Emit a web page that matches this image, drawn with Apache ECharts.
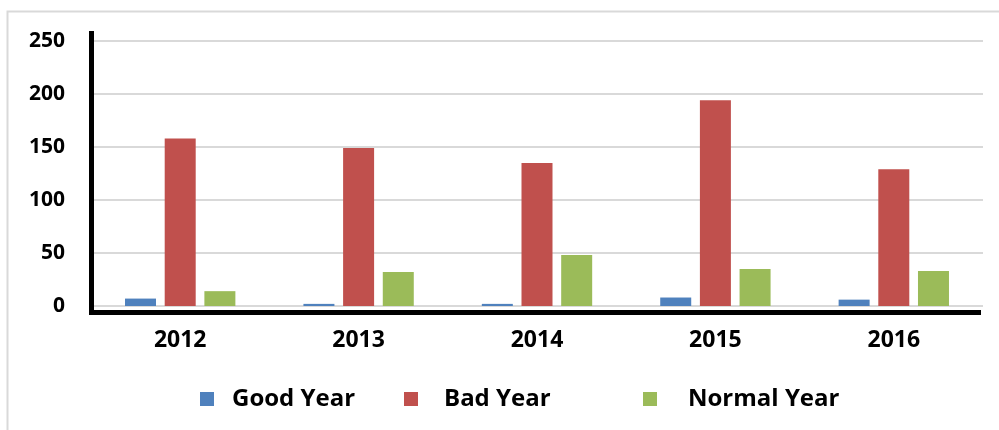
<!DOCTYPE html>
<html>
<head>
<meta charset="utf-8">
<script src="https://cdn.jsdelivr.net/npm/echarts@6/dist/echarts.min.js"></script>
<style>
  html, body { margin: 0; padding: 0; background: #fff; }
  #chart { width: 999px; height: 430px; }
</style>
</head>
<body>
<div id="chart"></div>
<script>
// Yearly counts by year type
const years = ['2012', '2013', '2014', '2015', '2016'];
const goodYear = [7, 2, 2, 8, 6];
const badYear = [158, 149, 135, 194, 129];
const normalYear = [14, 32, 48, 35, 33];
const yTicks = { min: 0, max: 250, interval: 50 };

const FONT = '"Open Sans"';
const colors = { good: '#4F81BD', bad: '#C0504D', normal: '#9BBB59' };

const chart = echarts.init(document.getElementById('chart'), null, { renderer: 'canvas' });

// one legend block per series so each entry can sit at its own spot
function legendAt(left, name, textGap) {
  return {
    data: [name],
    left: left,
    top: 387,
    padding: 0,
    itemWidth: 14,
    itemHeight: 14,
    icon: 'rect',
    textStyle: {
      fontFamily: FONT, fontWeight: 'bold', fontSize: 24, color: '#000',
      padding: [0, 0, 0, textGap]
    }
  };
}

function barSeries(name, data, color) {
  return {
    name: name,
    type: 'bar',
    data: data,
    barWidth: 31,
    barGap: '28%',
    itemStyle: { color: color },
    emphasis: { disabled: true }
  };
}

chart.setOption({
  animation: false,
  backgroundColor: '#fff',
  grid: { left: 91, right: 16, top: 41, bottom: 124, containLabel: false },
  legend: [
    legendAt(200, 'Good Year', 13),
    legendAt(404, 'Bad Year', 21),
    legendAt(643, 'Normal Year', 26)
  ],
  xAxis: {
    type: 'category',
    data: years,
    axisLine: { show: false },
    axisTick: { show: false },
    axisLabel: {
      fontFamily: FONT, fontWeight: 'bold', fontSize: 23, color: '#000',
      margin: 23
    },
    splitLine: { show: false }
  },
  yAxis: {
    type: 'value',
    min: yTicks.min,
    max: yTicks.max,
    interval: yTicks.interval,
    axisLine: { show: false },
    axisTick: { show: false },
    axisLabel: {
      fontFamily: FONT, fontWeight: 'bold', fontSize: 21, color: '#000',
      margin: 26
    },
    splitLine: { lineStyle: { color: '#D9D9D9', width: 2 } }
  },
  series: [
    barSeries('Good Year', goodYear, colors.good),
    barSeries('Bad Year', badYear, colors.bad),
    barSeries('Normal Year', normalYear, colors.normal)
  ],
  graphic: [
    // chart frame
    { type: 'rect', silent: true, z: -1,
      shape: { x: 7.5, y: 11.5, width: 1100, height: 600 },
      style: { fill: null, stroke: '#D9D9D9', lineWidth: 2 } },
    // heavy axis lines
    { type: 'line', silent: true, z: 10,
      shape: { x1: 91.5, y1: 31, x2: 91.5, y2: 315 },
      style: { stroke: '#000', lineWidth: 5 } },
    { type: 'line', silent: true, z: 10,
      shape: { x1: 89, y1: 312.5, x2: 981, y2: 312.5 },
      style: { stroke: '#000', lineWidth: 5 } }
  ]
});
</script>
</body>
</html>
